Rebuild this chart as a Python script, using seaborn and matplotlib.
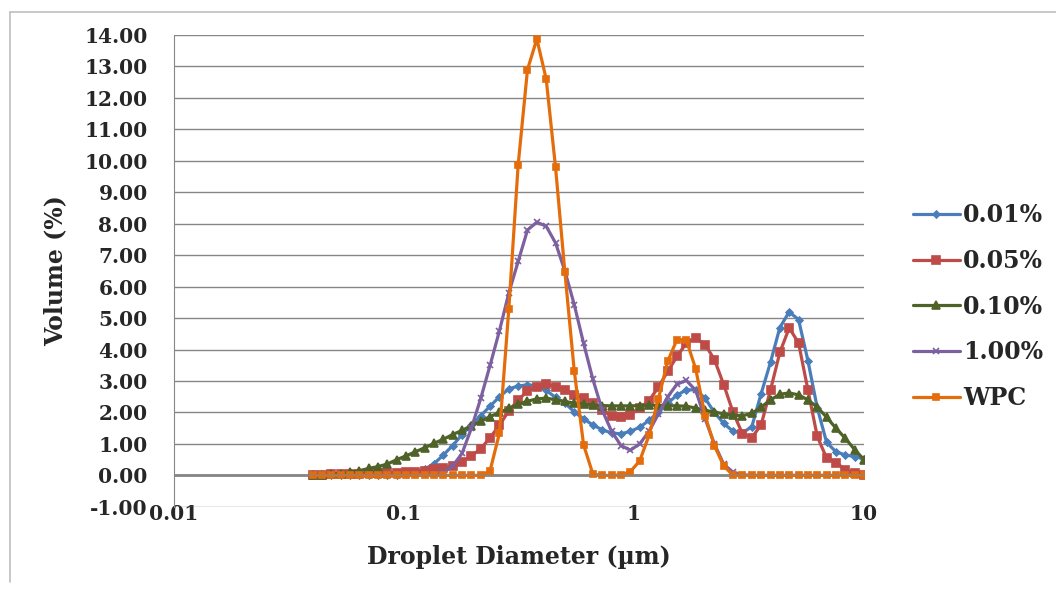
import matplotlib
matplotlib.use("Agg")
import matplotlib.pyplot as plt
import matplotlib.ticker as mticker
import seaborn as sns
import pandas as pd

# particle size channels (um)
diameter = [0.0400, 0.0440, 0.0482, 0.0530, 0.0582, 0.0639, 0.0701, 0.0770, 0.0846, 0.0929,
            0.1020, 0.1120, 0.1230, 0.1350, 0.1483, 0.1628, 0.1788, 0.1963, 0.2156, 0.2367,
            0.2600, 0.2855, 0.3135, 0.3442, 0.3780, 0.4151, 0.4558, 0.5005, 0.5496, 0.6035,
            0.6627, 0.7277, 0.7991, 0.8775, 0.9636, 1.058, 1.162, 1.276, 1.401, 1.538,
            1.689, 1.855, 2.037, 2.237, 2.456, 2.697, 2.962, 3.252, 3.571, 3.922,
            4.306, 4.729, 5.193, 5.702, 6.261, 6.876, 7.550, 8.291, 9.104, 10.00]

vol_001 = [0, 0, 0, 0, 0, 0, 0, 0, 0, 0.01,
           0.03, 0.1, 0.2, 0.37, 0.65, 0.95, 1.3, 1.6, 1.9, 2.2,
           2.5, 2.75, 2.84, 2.88, 2.85, 2.7, 2.48, 2.3, 2.02, 1.8,
           1.6, 1.45, 1.35, 1.32, 1.4, 1.53, 1.75, 2.0, 2.3, 2.55,
           2.72, 2.72, 2.45, 2.0, 1.65, 1.4, 1.35, 1.55, 2.6, 3.6,
           4.7, 5.2, 4.95, 3.65, 2.15, 1.05, 0.75, 0.65, 0.6, 0.52]

vol_005 = [0, 0.02, 0.04, 0.05, 0.05, 0.06, 0.07, 0.07, 0.08, 0.09,
           0.11, 0.12, 0.15, 0.19, 0.25, 0.3, 0.44, 0.62, 0.85, 1.2,
           1.6, 2.05, 2.4, 2.68, 2.82, 2.92, 2.81, 2.72, 2.56, 2.45,
           2.3, 2.08, 1.9, 1.85, 1.93, 2.14, 2.38, 2.8, 3.31, 3.78,
           4.21, 4.37, 4.16, 3.68, 2.88, 2.0, 1.32, 1.2, 1.61, 2.72,
           3.91, 4.69, 4.21, 2.72, 1.24, 0.55, 0.41, 0.18, 0.07, 0]

vol_010 = [0, 0.01, 0.03, 0.06, 0.1, 0.15, 0.22, 0.28, 0.36, 0.5,
           0.62, 0.75, 0.88, 1.02, 1.15, 1.3, 1.43, 1.58, 1.72, 1.87,
           2.0, 2.13, 2.26, 2.36, 2.43, 2.46, 2.4, 2.35, 2.3, 2.27,
           2.24, 2.22, 2.21, 2.21, 2.21, 2.22, 2.23, 2.23, 2.22, 2.21,
           2.2, 2.14, 2.07, 2.01, 1.96, 1.91, 1.9, 1.97, 2.17, 2.4,
           2.58, 2.62, 2.56, 2.4, 2.17, 1.85, 1.5, 1.18, 0.82, 0.5]

vol_100 = [0, 0, 0, 0, 0, 0, 0, 0, 0, 0,
           0, 0, 0, 0.03, 0.1, 0.3, 0.7, 1.5, 2.45, 3.5,
           4.6, 5.8, 6.8, 7.8, 8.05, 7.92, 7.39, 6.5, 5.43, 4.2,
           3.05, 2.07, 1.4, 0.95, 0.8, 1.0, 1.4, 1.95, 2.5, 2.9,
           3.02, 2.7, 1.8, 1.0, 0.35, 0.1, 0.02, 0, 0, 0,
           0, 0, 0, 0, 0, 0, 0, 0, 0, 0]

vol_wpc = [0, 0, 0, 0, 0, 0, 0, 0, 0, 0,
           0, 0, 0, 0, 0, 0, 0, 0, 0, 0.15,
           1.35, 5.29, 9.87, 12.9, 13.87, 12.6, 9.79, 6.46, 3.33, 0.97,
           0.04, 0, 0, 0.02, 0.12, 0.46, 1.27, 2.43, 3.63, 4.32,
           4.3, 3.38, 1.9, 0.94, 0.3, 0, 0, 0, 0, 0,
           0, 0, 0, 0, 0, 0, 0, 0, 0, 0]

series = {
    '0.01%': (vol_001, '#4A7EBB', 'D', 3.5),
    '0.05%': (vol_005, '#BE4B48', 's', 5.5),
    '0.10%': (vol_010, '#4F6228', '^', 5.5),
    '1.00%': (vol_100, '#7D60A0', 'x', 4.5),
    'WPC': (vol_wpc, '#E46C0A', 's', 5),
}

sns.set_style("white")
serif = ['DejaVu Serif']

fig = plt.figure(figsize=(10.56, 5.94), dpi=100)
ax = fig.add_axes([0.1648, 0.1467, 0.6534, 0.7944])

for name, (vals, col, mk, ms) in series.items():
    df = pd.DataFrame({'d': diameter, 'v': vals})
    sns.lineplot(data=df, x='d', y='v', ax=ax, color=col, lw=2.3, marker=mk,
                 markersize=ms, markeredgecolor=col, markeredgewidth=1.2,
                 label=name, sort=False)

ax.set_xscale('log')
ax.set_xlim(0.01, 10)
ax.set_ylim(-1, 14)
ax.set_yticks(range(-1, 15))
ax.yaxis.set_major_formatter(mticker.FormatStrFormatter('%.2f'))
ax.yaxis.grid(True, color='#868686', lw=1)
ax.axhline(0, color='#868686', lw=2, zorder=1)

for s in ['top', 'right']:
    ax.spines[s].set_visible(False)
ax.spines['left'].set_color('#868686')
ax.spines['bottom'].set_position(('data', 0))
ax.spines['bottom'].set_color('#868686')

ax.set_xticks([0.01, 0.1, 1, 10])
ax.xaxis.set_minor_locator(mticker.NullLocator())
ax.tick_params(axis='x', which='both', direction='out', length=5, color='#868686',
               labelbottom=False)
ax.tick_params(axis='y', direction='out', length=5, color='#868686', pad=14)
for lab in ax.get_yticklabels():
    lab.set_fontfamily(serif)
    lab.set_fontweight('bold')
    lab.set_fontsize(14.5)

sec = ax.secondary_xaxis('bottom')
sec.set_xticks([0.01, 0.1, 1, 10])
sec.set_xticklabels(['0.01', '0.1', '1', '10'])
sec.xaxis.set_minor_locator(mticker.NullLocator())
sec.tick_params(length=0, pad=-2)
sec.spines['bottom'].set_visible(False)
for lab in sec.get_xticklabels():
    lab.set_fontfamily(serif)
    lab.set_fontweight('bold')
    lab.set_fontsize(14.5)

ax.set_xlabel('')
sec.set_xlabel('Droplet Diameter (µm)', family=serif, fontweight='bold', fontsize=17, labelpad=15)
ax.set_ylabel('Volume (%)', family=serif, fontweight='bold', fontsize=17, labelpad=12)

ax.legend_.remove()
handles, labels = ax.get_legend_handles_labels()
fig.legend(handles, labels, loc='center left', bbox_to_anchor=(0.853, 0.484), frameon=False,
           prop={'family': serif, 'weight': 'bold', 'size': 17}, borderpad=0,
           handlelength=2.0, handletextpad=0.15, labelspacing=0.92)

# light border around the chart
fig.add_artist(plt.Line2D([0.0095, 0.0095], [0.02, 0.98], color='#BFBFBF', lw=1.2,
                          transform=fig.transFigure))
fig.add_artist(plt.Line2D([0.0095, 1.0], [0.98, 0.98], color='#BFBFBF', lw=1.2,
                          transform=fig.transFigure))

fig.savefig('out.png', dpi=100)
